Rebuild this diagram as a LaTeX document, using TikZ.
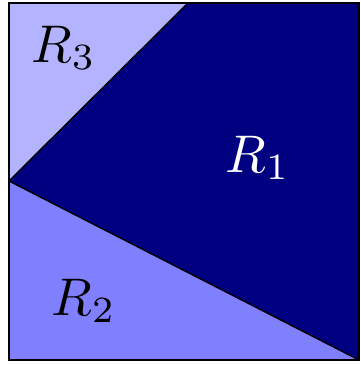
\documentclass[tikz,border=0pt]{standalone}
\usepackage{tikz}
\definecolor{rone}{RGB}{0,0,128}
\definecolor{rtwo}{RGB}{128,128,255}
\definecolor{rthree}{RGB}{179,179,255}
\begin{document}
\begin{tikzpicture}[x=1pt,y=-1pt,
  region/.style={draw=black,line width=1.4pt,line join=round},
  lab/.style={inner sep=0pt,anchor=base,scale=5.3}]
\useasboundingbox (0,0) rectangle (360,365);
\coordinate (tl) at (9,3);
\coordinate (tr) at (359,3);
\coordinate (br) at (359,360);
\coordinate (bl) at (9,360);
\coordinate (lm) at (9,181);
\coordinate (tm) at (188,3);
\fill[rone] (tm) -- (tr) -- (br) -- (lm) -- cycle;
\fill[rthree] (tl) -- (tm) -- (lm) -- cycle;
\fill[rtwo] (lm) -- (br) -- (bl) -- cycle;
\draw[region] (lm) -- (tm);
\draw[region] (lm) -- (br);
\draw[black,line width=2pt] (tl) rectangle (br);
\node[lab] (l3) at (64,62) {$R_3$};
\node[lab,text=white] (l1) at (258,172) {$R_1$};
\node[lab] (l2) at (84,315) {$R_2$};
\end{tikzpicture}
\end{document}
